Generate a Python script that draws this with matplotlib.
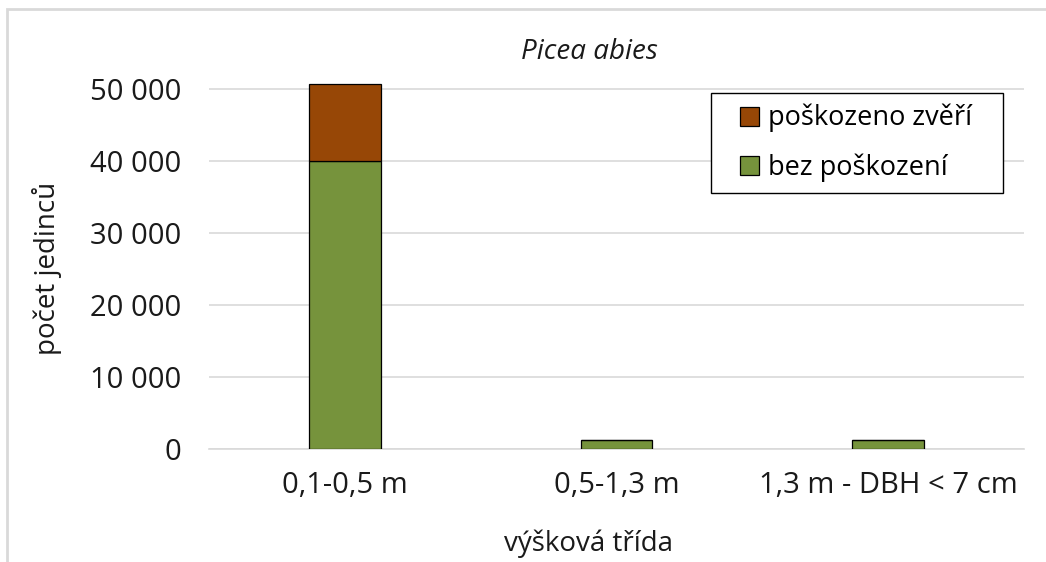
import matplotlib.pyplot as plt
import numpy as np
from matplotlib.patches import Rectangle

plt.rcParams['font.family'] = ['Open Sans', 'DejaVu Sans']

# výškové třídy a počty jedinců
categories = ['0,1-0,5 m', '0,5-1,3 m', '1,3 m - DBH < 7 cm']
bez_poskozeni = [40000, 1200, 1200]
poskozeno_zveri = [10700, 0, 0]

green = '#76933c'
brown = '#974706'

fig = plt.figure(figsize=(10.46, 5.62), dpi=100)
ax = fig.add_axes([209 / 1046, 1 - 449 / 562, (1024 - 209) / 1046, (449 - 61) / 562])

x = np.arange(len(categories))
w = 0.265
ax.bar(x, bez_poskozeni, w, color=green, edgecolor='black', linewidth=0.9,
       label='bez poškození', zorder=3)
ax.bar(x, poskozeno_zveri, w, bottom=bez_poskozeni, color=brown,
       edgecolor='black', linewidth=0.9, label='poškozeno zvěří', zorder=3)

ax.set_xlim(-0.5, 2.5)
ax.set_ylim(0, 50000 * 388 / 360)
ax.set_yticks(np.arange(0, 50001, 10000))
ax.set_yticklabels(['0', '10 000', '20 000', '30 000', '40 000', '50 000'])
ax.set_xticks(x)
ax.set_xticklabels(categories)
ax.tick_params(axis='both', length=0, labelsize=21, colors='#1a1a1a')
ax.tick_params(axis='y', pad=20)
ax.tick_params(axis='x', pad=16)
ax.grid(axis='y', color='#d9d9d9', linewidth=1.2, zorder=0)
for s in ['top', 'right', 'left']:
    ax.spines[s].set_visible(False)
ax.spines['bottom'].set_color('#d9d9d9')
ax.spines['bottom'].set_linewidth(1.2)

# legenda bez vlastního rámu, rám kreslený zvlášť
h, l = ax.get_legend_handles_labels()
fig.patches.append(Rectangle((711 / 1046, 1 - 193 / 562), (1003 - 711) / 1046, 100 / 562,
                             transform=fig.transFigure, facecolor='white',
                             edgecolor='black', linewidth=1.0, zorder=4))
leg = fig.legend(h[::-1], l[::-1], loc='upper left', bbox_to_anchor=(740 / 1046, 1 - 104 / 562),
                 fontsize=19.5, frameon=False,
                 handlelength=0.7, handleheight=0.7, handletextpad=0.33,
                 borderpad=0, labelspacing=0.78, borderaxespad=0)
leg.set_zorder(5)

fig.text(589 / 1046, 1 - 52 / 562, 'Picea abies', fontsize=20, style='italic',
         ha='center', va='center', color='#1a1a1a')
fig.text(47 / 1046, 1 - 268 / 562, 'počet jedinců', fontsize=20, rotation=90,
         ha='center', va='center', color='#1a1a1a')
fig.text(589 / 1046, 1 - 544 / 562, 'výšková třída', fontsize=20,
         ha='center', va='center', color='#1a1a1a')

# okraj oblasti grafu
fig.patches.append(Rectangle((7 / 1046, -0.1), 1.2, 1 - 9 / 562 + 0.1, transform=fig.transFigure,
                             fill=False, edgecolor='#d9d9d9', linewidth=2))

fig.savefig('out.png', dpi=100)
